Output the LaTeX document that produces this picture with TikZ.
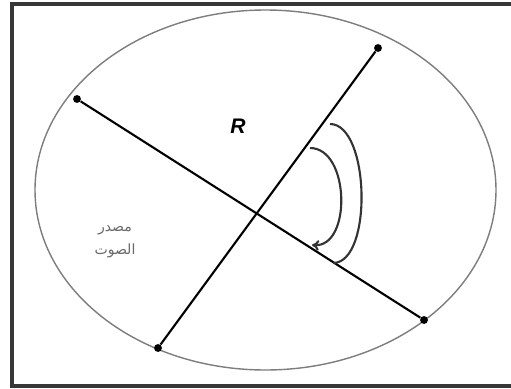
\documentclass[tikz,border=0pt]{standalone}
\usepackage{fontspec}
\usepackage{xcolor}
\setmainfont{Liberation Sans}
\newfontfamily\arabicfont[Script=Arabic]{DejaVu Sans}
\TeXXeTstate=1
\usetikzlibrary{arrows.meta}
\definecolor{framegray}{RGB}{55, 55, 55}
\definecolor{rimgray}{RGB}{125, 125, 125}
\definecolor{labelgray}{RGB}{105, 105, 105}

\begin{document}
\begin{tikzpicture}[x=0.02cm, y=-0.02cm]
    \tikzstyle{enddot} = [circle, fill=black, inner sep=0pt, minimum size=4.5pt]
    \tikzstyle{chord}  = [line width=1.2pt, black]
    \tikzstyle{arcline} = [line width=1.2pt, black!80]

    \useasboundingbox (0,0) rectangle (511,389);
    \draw[framegray, line width=2.2pt] (12,4) rectangle (513,386);
    \draw[rimgray, line width=0.8pt] (265.5,190) ellipse [x radius=230.5, y radius=180];

    % ends of the two chords
    \node[enddot] (nw) at (77,99)   {};
    \node[enddot] (se) at (424,320) {};
    \node[enddot] (sw) at (158,348) {};
    \node[enddot] (ne) at (378,48)  {};

    \draw[chord] (nw) -- (se);
    \draw[chord] (sw) -- (ne);

    % angle arcs
    \coordinate (outA) at (330,124);
    \coordinate (outB) at (333,263);
    \coordinate (inA)  at (310,148);
    \coordinate (inB)  at (312,245);
    \draw[arcline] (outA) .. controls (370,124) and (373,263) .. (outB);
    \draw[arcline, -{To[length=4pt, width=6pt]}] (inA) .. controls (350,148) and (352,248) .. (inB);

    \node[font=\bfseries\itshape\fontsize{12}{12}\selectfont] (r) at (238,126) {R};
    \node[labelgray, font=\arabicfont\fontsize{8}{13}\selectfont, align=center] (src) at (115,242)
        {\beginR مصدر\endR\\\beginR الصوت\endR};
\end{tikzpicture}
\end{document}
